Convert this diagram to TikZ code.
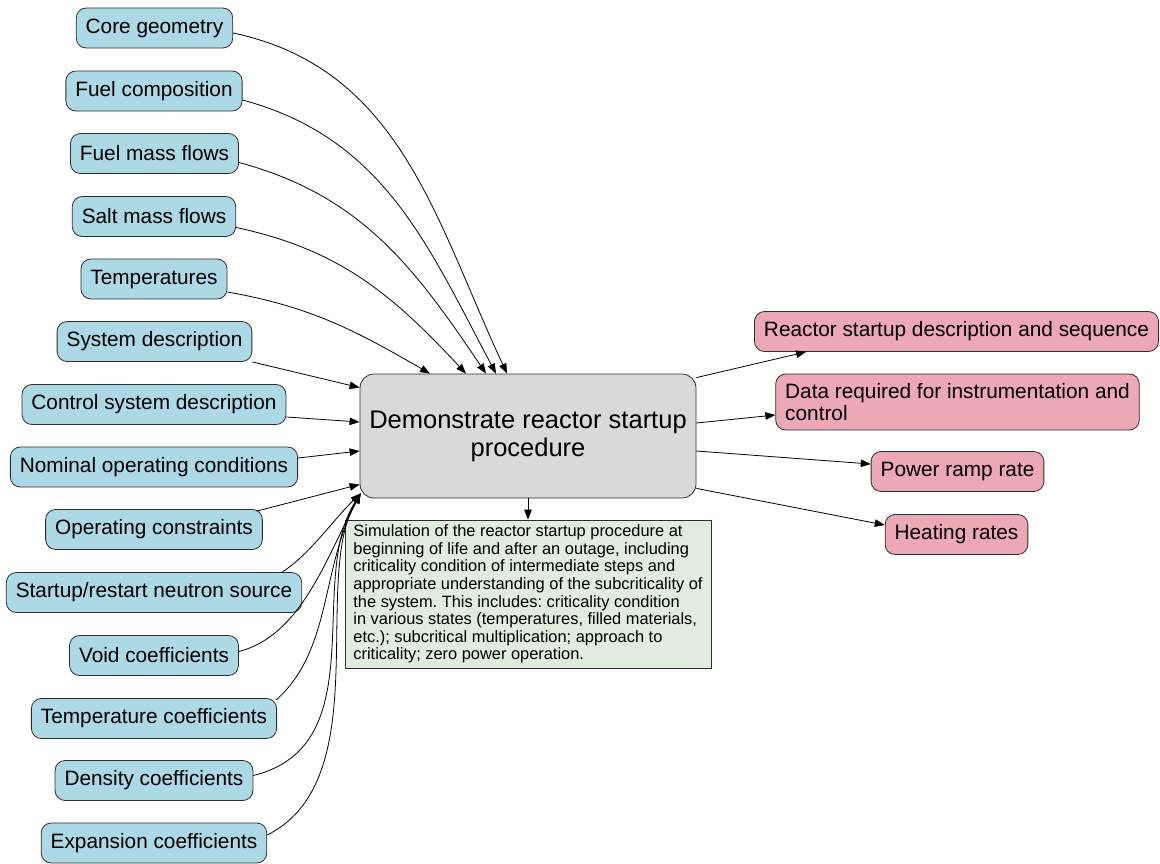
\documentclass[tikz,border=0pt]{standalone}
\usepackage{fontspec}
\setmainfont{Liberation Sans}
\usetikzlibrary{arrows.meta}
\frenchspacing

\definecolor{inblue}{RGB}{173,216,230}
\definecolor{outpink}{RGB}{236,168,180}
\definecolor{mainfill}{RGB}{217,217,217}
\definecolor{notefill}{RGB}{223,236,222}
\definecolor{border}{RGB}{45,45,45}

\tikzset{
  inbox/.style={draw=border, line width=0.8pt, fill=inblue, rounded corners=10pt,
    minimum height=40pt, inner xsep=9.5pt, inner ysep=0pt,
    font=\fontsize{20.8}{22.5}\selectfont},
  outbox/.style={inbox, fill=outpink, align=left},
  mainbox/.style={draw=border, line width=0.8pt, fill=mainfill, rounded corners=14pt,
    minimum width=336pt, minimum height=124pt, align=center,
    font=\fontsize{25.5}{28}\selectfont},
  notebox/.style={draw=border, line width=0.8pt, fill=notefill,
    minimum width=366pt, minimum height=148pt, align=left,
    font=\fontsize{16.4}{17.6}\selectfont},
  link/.style={draw=black, line width=0.8pt, -{Triangle[length=10pt,width=7.5pt]}},
}

\begin{document}
\begin{tikzpicture}[x=1pt,y=1pt]
\useasboundingbox (0,0) rectangle (1160,-863);

% inputs
\node[inbox] (n1)  at (154.5,-28)   {Core geometry};
\node[inbox] (n2)  at (154,-91)     {Fuel composition};
\node[inbox] (n3)  at (154.5,-153.5){Fuel mass flows};
\node[inbox] (n4)  at (154,-216.5)  {Salt mass flows};
\node[inbox] (n5)  at (154,-279)    {Temperatures};
\node[inbox] (n6)  at (154.5,-341.5){System description};
\node[inbox] (n7)  at (154,-404.5)  {Control system description};
\node[inbox] (n8)  at (154,-467)    {Nominal operating conditions};
\node[inbox] (n9)  at (154,-529.5)  {Operating constraints};
\node[inbox] (n10) at (154,-592.5)  {Startup/restart neutron source};
\node[inbox] (n11) at (154,-655.5)  {Void coefficients};
\node[inbox] (n12) at (154,-718.5)  {Temperature coefficients};
\node[inbox] (n13) at (154,-780.5)  {Density coefficients};
\node[inbox] (n14) at (154,-843)    {Expansion coefficients};

% central task
\node[mainbox] (main) at (528,-436) {Demonstrate reactor startup\\procedure};

% description
\node[notebox] (note) at (528,-594) {Simulation of the reactor startup procedure at\\
beginning of life and after an outage, including\\
criticality condition of intermediate steps and\\
appropriate understanding of the subcriticality of\\
the system. This includes: criticality condition\\
in various states (temperatures, filled materials,\\
etc.); subcritical multiplication; approach to\\
criticality; zero power operation.};

% outputs
\node[outbox] (r1) at (956.5,-331.5) {Reactor startup description and sequence};
\node[outbox, minimum height=56pt] (r2) at (957.5,-402) {Data required for instrumentation and\\control};
\node[outbox] (r3) at (957.5,-471.5) {Power ramp rate};
\node[outbox] (r4) at (956.5,-534.5) {Heating rates};

% upper inputs arcing onto the top edge
\draw[link] ([yshift=-5]n1.east) to[out=-12, in=115] ([xshift=-21]main.north);
\draw[link] ([yshift=-9]n2.east) to[out=-15, in=118] ([xshift=-32]main.north);
\draw[link] ([yshift=-9]n3.east) to[out=-15, in=124] ([xshift=-42]main.north);
\draw[link] ([yshift=-11]n4.east) to[out=-12, in=133] ([xshift=-62]main.north);
\draw[link] ([yshift=-13]n5.east) to[out=-10, in=150] ([xshift=-98]main.north);

% straight inputs onto the left edge
\draw[link] (n6.south east) -- ([yshift=-14]main.north west);
\draw[link] ([yshift=-12.5]n7.east) -- ([yshift=14]main.west);
\draw[link] ([yshift=9]n8.east) -- ([yshift=-15]main.west);
\draw[link] ([xshift=-6,yshift=-2]n9.north east) -- ([yshift=14]main.south west);

% lower inputs looping up into the bottom-left corner
\draw[link] ([xshift=-20]n10.north east) .. controls +(27,17) and +(-27,-26) .. ([shift={(1,5)}]main.south west);
\draw[link] ([yshift=4]n11.east) .. controls +(62,16) and +(-35,-66) .. ([shift={(1,5)}]main.south west);
\draw[link] ([xshift=-1,yshift=-2]n12.north east) .. controls +(56,50) and +(-40,-76) .. ([shift={(1,5)}]main.south west);
\draw[link] ([yshift=5]n13.east) .. controls +(122,30) and +(-55,-86) .. ([shift={(1,5)}]main.south west);
\draw[link] ([yshift=8]n14.east) .. controls +(110,55) and +(-50,-86) .. ([shift={(1,5)}]main.south west);

% task to description
\draw[link] (main.south) -- (note.north);

% task to outputs
\draw[link] ([yshift=-4]main.north east) -- ([xshift=52]r1.south west);
\draw[link] ([yshift=13]main.east) -- ([yshift=-13]r2.west);
\draw[link] ([yshift=-15]main.east) -- ([yshift=7.5]r3.west);
\draw[link] ([yshift=10]main.south east) -- ([yshift=9.5]r4.west);
\end{tikzpicture}
\end{document}
